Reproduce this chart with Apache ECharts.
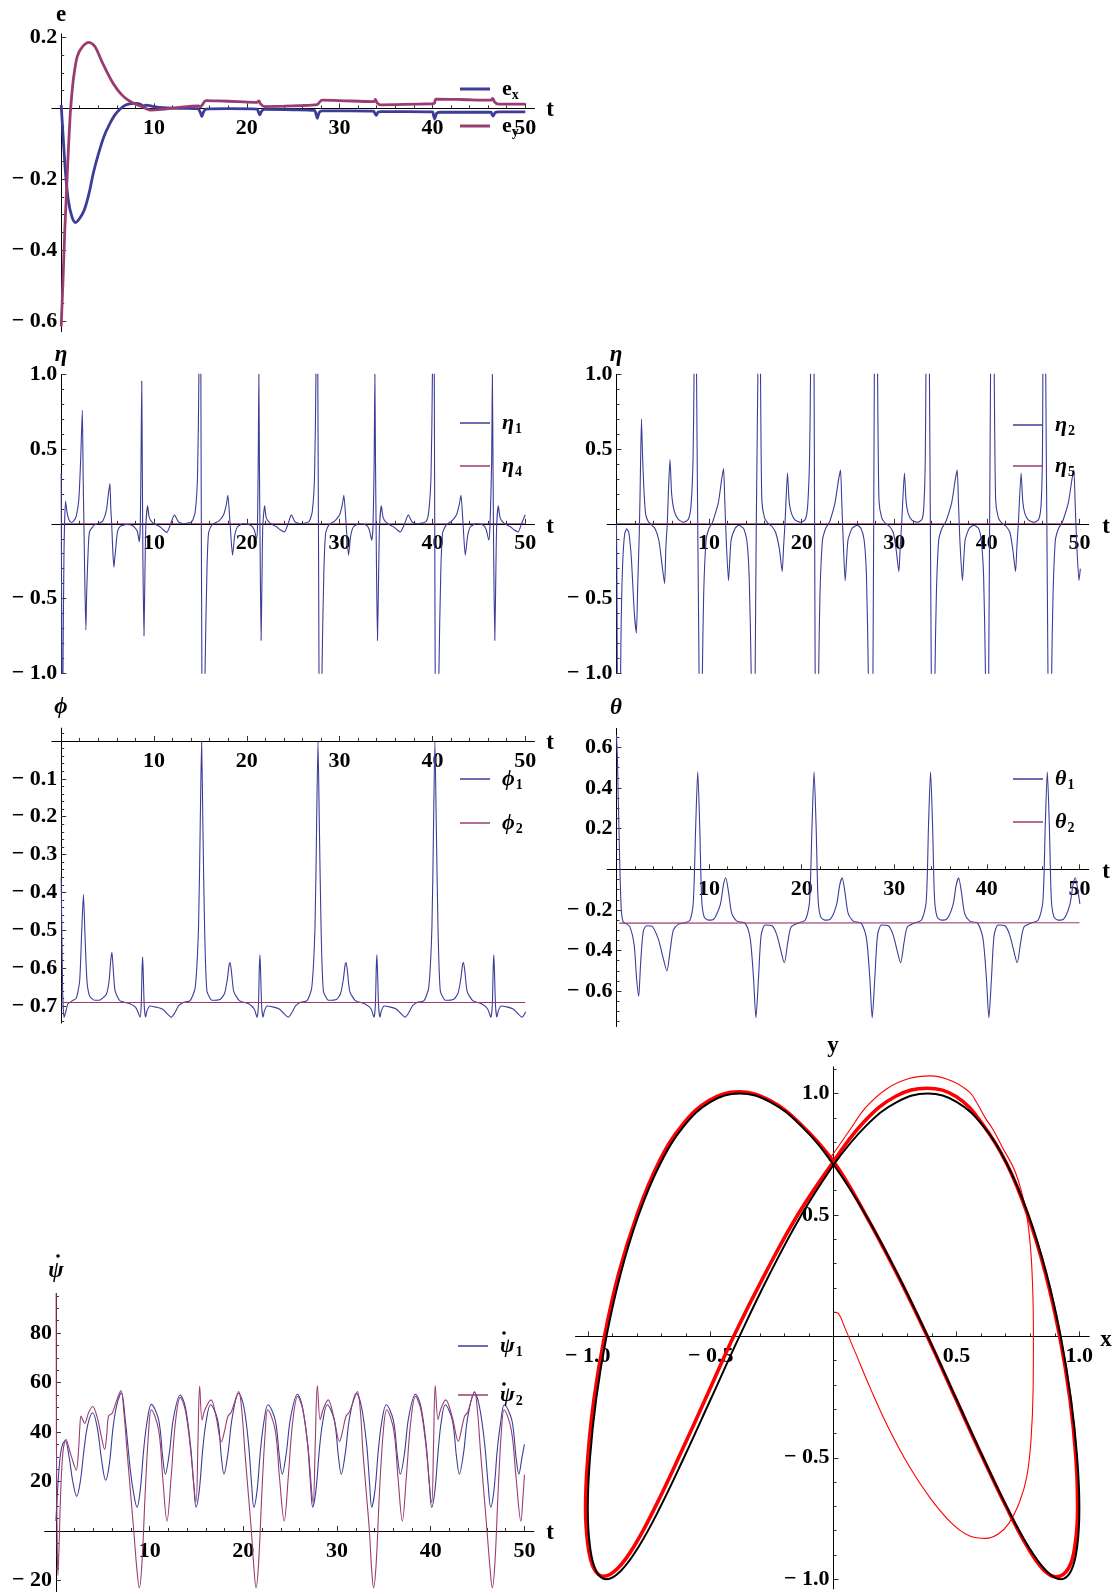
<!DOCTYPE html>
<html><head><meta charset="utf-8">
<script src="https://cdn.jsdelivr.net/npm/echarts@6/dist/echarts.min.js"></script>
<style>html,body{margin:0;padding:0;background:#fff}#c{width:1116px;height:1593px}</style>
</head><body><div id="c"></div>
<script>
// ---------------- tick labels ----------------
const tTickLabels = [10,20,30,40,50];
const eTickLabels = [-0.6,-0.4,-0.2,0.2];
const etaTickLabels = [-1,-0.5,0.5,1];
const phiTickLabels = [-0.7,-0.6,-0.5,-0.4,-0.3,-0.2,-0.1];
const thetaTickLabels = [-0.6,-0.4,-0.2,0.2,0.4,0.6];
const psiTickLabels = [-20,20,40,60,80];
const xyTickLabels = [-1,-0.5,0.5,1];

// ---------------- series values [t, value] ----------------
const ex = [[0,0.01],[0.19,-0.07],[0.46,-0.18],[0.77,-0.26],[1.15,-0.305],[1.54,-0.322],[2.0,-0.31],[2.5,-0.286],[3.0,-0.24],[3.46,-0.183],[4.0,-0.13],[4.6,-0.08],[5.2,-0.045],[5.77,-0.019],[6.3,-0.003],[6.9,0.009],[7.5,0.013],[8.1,0.014],[8.6,0.011],[8.85,0.006],[9.1,0.009],[10,0.005],[11,0.002],[12.7,0.0],[14.7,-0.001],[15.0,-0.012],[15.15,-0.023],[15.35,-0.01],[15.6,-0.002],[18,-0.001],[21.1,-0.002],[21.25,-0.01],[21.4,-0.018],[21.6,-0.008],[21.9,-0.003],[25,-0.004],[27.3,-0.006],[27.45,-0.015],[27.6,-0.028],[27.8,-0.012],[28.1,-0.007],[31,-0.007],[33.65,-0.008],[33.8,-0.014],[33.95,-0.02],[34.15,-0.01],[34.5,-0.009],[37,-0.009],[40.0,-0.01],[40.12,-0.02],[40.25,-0.03],[40.45,-0.014],[40.8,-0.011],[43.5,-0.011],[46.3,-0.011],[46.42,-0.017],[46.55,-0.022],[46.75,-0.012],[47.1,-0.01],[50,-0.01]];
const ey = [[0,-0.615],[0.19,-0.49],[0.38,-0.35],[0.55,-0.25],[0.69,-0.164],[0.96,-0.023],[1.15,0.04],[1.35,0.089],[1.73,0.146],[2.3,0.174],[3.0,0.186],[3.65,0.174],[4.4,0.131],[5.38,0.08],[6.0,0.055],[6.54,0.038],[7.1,0.025],[7.7,0.016],[8.85,0.003],[9.6,-0.005],[10.8,-0.003],[12.7,0.003],[14.8,0.007],[15.0,0.004],[15.2,0.01],[15.6,0.022],[17,0.021],[19,0.019],[21.1,0.017],[21.3,0.021],[21.5,0.012],[21.9,0.005],[24,0.006],[26,0.008],[27.3,0.01],[27.6,0.011],[28.1,0.023],[30,0.022],[33.7,0.019],[33.85,0.025],[34.05,0.015],[34.4,0.01],[37,0.011],[40.0,0.013],[40.2,0.014],[40.4,0.026],[43,0.025],[46.3,0.023],[46.5,0.028],[46.7,0.018],[47.1,0.012],[50,0.012]];

const eta1 = [[0,0.34],[0.05,-0.6],[0.1,-1.6],[0.18,-1.1],[0.3,-0.2],[0.47,0.15],[0.65,0.07],[0.85,0.025],[1.08,0.01],[1.35,0.02],[1.62,0.05],[1.9,0.16],[2.1,0.43],[2.28,0.76],[2.37,0.3],[2.45,0],[2.55,-0.4],[2.66,-0.71],[2.75,-0.45],[2.84,-0.29],[2.95,-0.12],[3.07,-0.05],[3.6,-0.007],[4.15,0.005],[4.5,0.02],[4.87,0.09],[5.09,0.2],[5.25,0.27],[5.35,0.1],[5.44,0],[5.56,-0.18],[5.68,-0.29],[5.79,-0.22],[5.9,-0.15],[6.05,-0.06],[6.3,-0.02],[7.04,-0.005],[7.76,-0.015],[8.2,-0.05],[8.41,-0.12],[8.52,-0.02],[8.6,0.4],[8.68,0.955],[8.74,0.4],[8.8,-0.2],[8.92,-0.75],[9.02,-0.35],[9.12,-0.02],[9.31,0.12],[9.5,0.04],[9.9,0.005],[10.65,-0.02],[11.0,-0.04],[11.37,-0.058],[11.8,0.0],[12.2,0.06],[12.64,0.013],[13.18,0],[14.08,0.015],[14.44,0.08],[14.69,0.32],[14.84,1.0],[14.95,3],[15.05,1.0],[15.1,0],[15.16,-1],[15.3,-3],[15.5,-1],[15.7,-0.33],[15.88,-0.06],[16.25,-0.007],[17.0,0.02],[17.5,0.06],[17.8,0.13],[17.96,0.19],[18.2,0.0],[18.46,-0.21],[18.7,-0.08],[19.0,-0.02],[19.6,0],[20.4,-0.01],[20.8,-0.04],[21.05,-0.1],[21.15,-0.02],[21.23,0.4],[21.3,1.0],[21.36,0.4],[21.44,-0.2],[21.54,-0.78],[21.64,-0.35],[21.72,-0.02],[21.92,0.12],[22.1,0.04],[22.5,0.005],[23.2,-0.02],[23.6,-0.04],[24.04,-0.055],[24.45,0.0],[24.8,0.06],[25.2,0.013],[25.8,0],[26.7,0.015],[27.05,0.08],[27.3,0.32],[27.45,1.0],[27.55,3],[27.65,1.0],[27.72,0],[27.78,-1],[27.9,-3],[28.1,-1],[28.3,-0.33],[28.5,-0.06],[28.85,-0.007],[29.5,0.02],[30.0,0.06],[30.3,0.13],[30.46,0.19],[30.7,0.0],[30.96,-0.21],[31.2,-0.08],[31.5,-0.02],[32.1,0],[32.9,-0.01],[33.2,-0.04],[33.46,-0.11],[33.6,-0.02],[33.72,0.4],[33.8,1.0],[33.87,0.4],[33.96,-0.2],[34.08,-0.78],[34.2,-0.35],[34.3,-0.02],[34.5,0.12],[34.7,0.04],[35.1,0.005],[35.8,-0.02],[36.2,-0.04],[36.54,-0.055],[37.0,0.0],[37.4,0.06],[37.8,0.013],[38.4,0],[39.3,0.015],[39.6,0.08],[39.85,0.32],[40.0,1.0],[40.1,3],[40.2,1.0],[40.25,0],[40.3,-1],[40.5,-3],[40.7,-1],[40.9,-0.33],[41.1,-0.06],[41.5,-0.007],[42.1,0.02],[42.6,0.06],[42.9,0.13],[43.08,0.19],[43.3,0.0],[43.54,-0.21],[43.8,-0.08],[44.1,-0.02],[44.7,0],[45.5,-0.01],[45.8,-0.04],[46.08,-0.11],[46.2,-0.02],[46.38,0.4],[46.46,1.0],[46.53,0.4],[46.6,-0.2],[46.72,-0.78],[46.83,-0.35],[46.92,-0.02],[47.1,0.12],[47.3,0.04],[47.7,0.005],[48.4,-0.02],[48.8,-0.04],[49.23,-0.055],[49.6,0.0],[50.0,0.06]];
const eta4 = [[0,0],[50,0]];

const eta2 = [[0,0],[0.05,-0.4],[0.1,-1.2],[0.25,-3],[0.42,-1.2],[0.5,-0.7],[0.6,-0.4],[0.72,-0.2],[0.9,-0.063],[1.12,-0.034],[1.34,-0.06],[1.62,-0.24],[1.91,-0.58],[2.15,-0.73],[2.3,-0.4],[2.45,-0.1],[2.55,0.2],[2.7,0.7],[2.82,0.45],[2.95,0.25],[3.14,0.07],[3.43,0.015],[3.79,-0.007],[4.15,-0.03],[4.58,-0.11],[4.95,-0.29],[5.2,-0.40],[5.34,-0.15],[5.49,0],[5.6,0.2],[5.78,0.43],[5.96,0.2],[6.25,0.083],[6.68,0.03],[7.22,0.01],[7.76,0.03],[8.05,0.12],[8.27,0.43],[8.38,1.0],[8.5,3],[8.65,1.0],[8.75,0.2],[8.85,-0.5],[8.92,-1],[9.1,-3],[9.28,-1],[9.42,-0.47],[9.68,-0.11],[10.0,-0.03],[10.3,0],[10.47,0.027],[11.0,0.14],[11.37,0.3],[11.57,0.37],[11.7,0.15],[11.85,-0.1],[12.1,-0.38],[12.38,-0.11],[12.82,-0.03],[13.18,-0.01],[13.72,-0.03],[14.08,-0.11],[14.33,-0.35],[14.55,-1],[14.75,-3],[14.98,-1],[15.1,0],[15.27,1],[15.42,3],[15.56,1],[15.7,0.16],[15.99,0.04],[16.43,0],[16.8,-0.018],[17.2,-0.06],[17.6,-0.17],[17.9,-0.32],[18.05,-0.15],[18.2,0.0],[18.47,0.34],[18.65,0.15],[18.9,0.07],[19.3,0.025],[19.9,0.01],[20.4,0.03],[20.65,0.12],[20.85,0.43],[20.96,1],[21.15,3],[21.34,1],[21.4,0],[21.46,-1],[21.65,-3],[21.84,-1],[21.98,-0.47],[22.25,-0.11],[22.6,-0.03],[22.9,0],[23.1,0.027],[23.6,0.14],[24.0,0.3],[24.2,0.36],[24.33,0.15],[24.48,-0.1],[24.7,-0.38],[25.0,-0.11],[25.45,-0.03],[26.0,-0.01],[26.4,-0.03],[26.75,-0.11],[27.0,-0.35],[27.2,-1],[27.5,-3],[27.7,-1],[27.78,0],[27.85,1],[28.0,3],[28.2,1],[28.35,0.16],[28.65,0.04],[29.1,0],[29.5,-0.018],[29.9,-0.06],[30.2,-0.17],[30.5,-0.32],[30.65,-0.15],[30.8,0],[31.1,0.34],[31.28,0.15],[31.5,0.07],[31.9,0.025],[32.5,0.01],[33.0,0.03],[33.2,0.12],[33.35,0.43],[33.42,1],[33.6,3],[33.8,1],[33.9,0],[34.0,-1],[34.2,-3],[34.4,-1],[34.55,-0.47],[34.8,-0.11],[35.15,-0.03],[35.45,0],[35.65,0.027],[36.2,0.14],[36.6,0.3],[36.8,0.36],[36.93,0.15],[37.08,-0.1],[37.36,-0.38],[37.65,-0.11],[38.1,-0.03],[38.6,-0.01],[39.1,-0.03],[39.4,-0.11],[39.65,-0.35],[39.85,-1],[40.0,-3],[40.2,-1],[40.3,0],[40.4,1],[40.6,3],[40.8,1],[40.95,0.16],[41.25,0.04],[41.7,0],[42.1,-0.018],[42.5,-0.06],[42.8,-0.17],[43.1,-0.32],[43.25,-0.15],[43.4,0],[43.7,0.34],[43.88,0.15],[44.1,0.07],[44.5,0.025],[45.1,0.01],[45.6,0.03],[45.85,0.12],[46.0,0.43],[46.05,1],[46.2,3],[46.36,1],[46.48,0],[46.6,-1],[46.8,-3],[47.0,-1],[47.15,-0.47],[47.4,-0.11],[47.75,-0.03],[48.05,0],[48.25,0.027],[48.8,0.14],[49.2,0.3],[49.4,0.36],[49.53,0.15],[49.68,-0.1],[49.95,-0.38],[50.1,-0.3]];
const eta5 = [[0,0],[50,0]];

const phi1 = [[0,-0.36],[0.15,-0.65],[0.3,-0.73],[0.45,-0.72],[0.72,-0.695],[1.2,-0.686],[1.62,-0.68],[1.99,-0.634],[2.2,-0.51],[2.4,-0.405],[2.56,-0.51],[2.78,-0.634],[3.07,-0.674],[3.6,-0.685],[4.2,-0.684],[4.87,-0.669],[5.16,-0.634],[5.34,-0.58],[5.47,-0.558],[5.6,-0.6],[5.81,-0.66],[6.32,-0.686],[7.4,-0.694],[8.0,-0.703],[8.3,-0.718],[8.5,-0.73],[8.62,-0.7],[8.72,-0.6],[8.78,-0.57],[8.85,-0.62],[8.95,-0.7],[9.1,-0.73],[9.25,-0.713],[9.57,-0.70],[10.2,-0.703],[10.9,-0.708],[11.4,-0.72],[11.85,-0.73],[12.25,-0.718],[12.64,-0.70],[13.2,-0.69],[13.9,-0.686],[14.44,-0.652],[14.8,-0.49],[14.98,-0.225],[15.13,0.0],[15.27,-0.225],[15.45,-0.49],[15.7,-0.66],[16.25,-0.685],[17.15,-0.682],[17.6,-0.667],[17.9,-0.63],[18.1,-0.59],[18.2,-0.585],[18.35,-0.61],[18.6,-0.662],[19.2,-0.686],[20.2,-0.694],[20.8,-0.708],[21.1,-0.73],[21.25,-0.7],[21.35,-0.6],[21.42,-0.565],[21.5,-0.62],[21.6,-0.7],[21.75,-0.73],[21.9,-0.713],[22.2,-0.70],[22.9,-0.703],[23.5,-0.708],[24.0,-0.72],[24.45,-0.73],[24.85,-0.718],[25.25,-0.70],[25.8,-0.69],[26.5,-0.686],[27.0,-0.652],[27.35,-0.49],[27.52,-0.225],[27.67,0.0],[27.82,-0.225],[28.0,-0.49],[28.25,-0.66],[28.8,-0.685],[29.7,-0.682],[30.1,-0.667],[30.4,-0.63],[30.6,-0.59],[30.7,-0.585],[30.85,-0.61],[31.1,-0.662],[31.7,-0.686],[32.7,-0.694],[33.4,-0.708],[33.7,-0.73],[33.85,-0.7],[33.95,-0.6],[34.02,-0.565],[34.1,-0.62],[34.2,-0.7],[34.35,-0.73],[34.5,-0.713],[34.8,-0.70],[35.5,-0.703],[36.1,-0.708],[36.6,-0.72],[37.05,-0.73],[37.45,-0.718],[37.85,-0.70],[38.4,-0.69],[39.1,-0.686],[39.6,-0.652],[39.95,-0.49],[40.12,-0.225],[40.27,0.0],[40.42,-0.225],[40.6,-0.49],[40.85,-0.66],[41.4,-0.685],[42.3,-0.682],[42.75,-0.667],[43.05,-0.63],[43.25,-0.59],[43.35,-0.585],[43.5,-0.61],[43.75,-0.662],[44.35,-0.686],[45.3,-0.694],[45.95,-0.708],[46.3,-0.73],[46.45,-0.7],[46.55,-0.6],[46.62,-0.565],[46.7,-0.62],[46.8,-0.7],[46.95,-0.73],[47.1,-0.713],[47.4,-0.70],[48.1,-0.703],[48.7,-0.708],[49.2,-0.72],[49.65,-0.73],[50.05,-0.715]];
const phi2 = [[0,-0.691],[50,-0.691]];

const theta1 = [[0,0.66],[0.1,0.55],[0.18,0.38],[0.28,0.18],[0.36,0.02],[0.45,-0.12],[0.54,-0.21],[0.72,-0.258],[0.97,-0.266],[1.44,-0.282],[1.91,-0.372],[2.17,-0.535],[2.4,-0.625],[2.6,-0.47],[2.89,-0.307],[3.25,-0.278],[3.79,-0.279],[4.5,-0.34],[4.95,-0.42],[5.45,-0.5],[5.78,-0.405],[6.14,-0.299],[6.68,-0.271],[7.4,-0.263],[7.94,-0.25],[8.3,-0.16],[8.56,0.215],[8.78,0.48],[8.99,0.215],[9.2,-0.144],[9.46,-0.233],[9.93,-0.25],[10.47,-0.247],[11.2,-0.176],[11.55,-0.078],[11.8,-0.042],[12.1,-0.111],[12.45,-0.217],[13.0,-0.255],[13.9,-0.266],[14.44,-0.34],[14.8,-0.535],[15.06,-0.73],[15.34,-0.535],[15.63,-0.323],[16.06,-0.274],[16.8,-0.278],[17.3,-0.32],[17.7,-0.39],[18.13,-0.46],[18.5,-0.36],[18.85,-0.285],[19.6,-0.265],[20.4,-0.25],[20.85,-0.16],[21.12,0.215],[21.34,0.48],[21.56,0.215],[21.77,-0.144],[22.04,-0.233],[22.5,-0.25],[23.05,-0.247],[23.76,-0.176],[24.11,-0.078],[24.37,-0.042],[24.67,-0.111],[25.02,-0.217],[25.57,-0.255],[26.45,-0.266],[27.0,-0.34],[27.36,-0.535],[27.62,-0.73],[27.9,-0.535],[28.2,-0.323],[28.62,-0.274],[29.36,-0.278],[29.86,-0.32],[30.26,-0.39],[30.69,-0.46],[31.06,-0.36],[31.4,-0.285],[32.15,-0.265],[32.95,-0.25],[33.45,-0.16],[33.7,0.215],[33.92,0.48],[34.14,0.215],[34.35,-0.144],[34.62,-0.233],[35.07,-0.25],[35.62,-0.247],[36.34,-0.176],[36.69,-0.078],[36.95,-0.042],[37.25,-0.111],[37.6,-0.217],[38.15,-0.255],[39.02,-0.266],[39.58,-0.34],[39.95,-0.535],[40.22,-0.73],[40.5,-0.535],[40.79,-0.323],[41.22,-0.274],[41.95,-0.278],[42.45,-0.32],[42.85,-0.39],[43.28,-0.46],[43.65,-0.36],[44.0,-0.285],[44.75,-0.265],[45.55,-0.25],[46.05,-0.16],[46.31,0.215],[46.53,0.48],[46.75,0.215],[46.96,-0.144],[47.23,-0.233],[47.7,-0.25],[48.25,-0.247],[48.95,-0.176],[49.3,-0.078],[49.55,-0.042],[49.85,-0.111],[50.05,-0.17]];
const theta2 = [[0.3,-0.265],[50,-0.263]];

const psi1 = [[0,4],[0.2,18],[0.45,30],[0.7,35],[1.0,36.5],[1.4,30],[1.8,20],[2.22,14],[2.6,20],[3.0,33],[3.4,43],[3.91,47.8],[4.4,42],[4.9,28],[5.3,20.5],[5.7,27],[6.1,42],[6.5,51],[6.98,55.9],[7.4,44.9],[7.94,24.6],[8.3,15],[8.65,9.6],[9.0,16.5],[9.36,32.7],[9.7,43.5],[10.18,51.2],[10.96,44.9],[11.39,30],[11.67,23],[12.1,31.4],[12.56,46],[13.27,55],[13.8,50.3],[14.34,35.4],[14.7,19],[14.95,9.6],[15.3,16.5],[15.66,32.7],[16.0,43.5],[16.5,51],[17.26,44.9],[17.65,30],[17.93,23],[18.36,31.4],[18.82,46],[19.5,55.7],[20.05,50.3],[20.55,35.4],[20.88,19],[21.12,9.6],[21.47,16.5],[21.83,32.7],[22.17,43.5],[22.63,51],[23.4,44.9],[23.85,30],[24.15,23],[24.58,31.4],[25.05,46],[25.78,55.3],[26.3,50.3],[26.85,35.4],[27.17,19],[27.4,9.6],[27.75,16.5],[28.11,32.7],[28.45,43.5],[28.95,51],[29.7,44.9],[30.15,30],[30.45,23],[30.88,31.4],[31.35,46],[32.07,55.7],[32.6,50.3],[33.15,35.4],[33.48,19],[33.7,9.6],[34.05,16.5],[34.41,32.7],[34.75,43.5],[35.25,51],[36.0,44.9],[36.45,30],[36.75,23],[37.2,31.4],[37.65,46],[38.38,55.3],[38.95,50.3],[39.5,35.4],[39.85,19],[40.1,9.6],[40.45,16.5],[40.8,32.7],[41.1,43.5],[41.55,51],[42.3,44.9],[42.75,30],[43.05,23],[43.5,31.4],[43.95,46],[44.67,56],[45.2,50.3],[45.75,35.4],[46.12,19],[46.4,9.6],[46.75,16.5],[47.1,32.7],[47.45,43.5],[47.85,51],[48.65,44.9],[49.1,30],[49.4,23],[49.75,30],[50,35]];
const psi2 = [[0,160],[0.05,40],[0.12,0],[0.21,-18],[0.32,-8],[0.5,15],[0.75,32],[1.07,37],[1.5,32],[1.9,27],[2.17,24.6],[2.4,32],[2.55,42],[2.67,46.5],[2.85,45],[3.06,43.5],[3.5,48],[3.91,50.3],[4.4,46],[4.8,39],[5.2,33],[5.4,38],[5.62,46.5],[6.0,47.6],[6.5,53],[6.94,56.8],[7.25,48],[7.58,32.7],[7.94,16.5],[8.3,0.3],[8.65,-16],[8.9,-23],[9.18,-13],[9.54,16.5],[9.9,40.8],[10.18,49],[10.96,40.8],[11.39,21.9],[11.85,4],[12.3,22],[12.74,43.5],[13.27,54],[13.8,49],[14.34,34],[14.95,11.8],[15.15,35],[15.34,58.6],[15.6,44.9],[15.9,49],[16.55,53],[17.1,46],[17.65,36],[18.0,40.5],[18.35,46.3],[18.7,48],[19.1,52.5],[19.5,56.4],[19.85,48],[20.15,32.7],[20.5,16.5],[20.85,0.3],[21.15,-16],[21.35,-23],[21.63,-13],[21.99,16.5],[22.35,40.8],[22.6,49],[23.4,40.8],[23.85,21.9],[24.36,4],[24.8,22],[25.25,43.5],[25.8,54.4],[26.35,49],[26.9,34],[27.45,11.5],[27.67,35],[27.9,58.8],[28.2,45],[28.5,49],[29.05,53],[29.65,46],[30.27,36.2],[30.6,40.5],[30.95,46.3],[31.3,48],[31.75,52.5],[32.17,56.4],[32.5,48],[32.75,32.7],[33.1,16.5],[33.45,0.3],[33.7,-16],[33.9,-23],[34.18,-13],[34.54,16.5],[34.95,40.8],[35.3,49],[36.05,40.8],[36.5,21.9],[36.97,4],[37.4,22],[37.85,43.5],[38.38,54.4],[38.95,49],[39.5,34],[40.1,11.5],[40.3,35],[40.48,58.8],[40.78,45],[41.05,49],[41.6,53],[42.3,46],[42.95,36.2],[43.25,40.5],[43.6,46.3],[43.95,48],[44.3,52.5],[44.67,56.4],[45.0,48],[45.3,32.7],[45.65,16.5],[46.0,0.3],[46.35,-16],[46.57,-23],[46.85,-13],[47.2,16.5],[47.55,40.8],[47.83,49],[48.6,40.8],[49.1,21.9],[49.62,4],[49.85,14],[50,22.7]];

// x-y plane: reference figure-eight (black), converging trajectory (red)
const refCurve = [[0,0.707],[0.131,0.866],[0.259,0.966],[0.383,1.0],[0.5,0.966],[0.609,0.866],[0.707,0.707],[0.793,0.5],[0.866,0.259],[0.924,0],[0.966,-0.259],[0.991,-0.5],[1.0,-0.707],[0.991,-0.866],[0.966,-0.966],[0.924,-1.0],[0.866,-0.966],[0.793,-0.866],[0.707,-0.707],[0.609,-0.5],[0.5,-0.259],[0.383,0],[0.259,0.259],[0.131,0.5],[0,0.707],[-0.131,0.866],[-0.259,0.966],[-0.383,1.0],[-0.5,0.966],[-0.609,0.866],[-0.707,0.707],[-0.793,0.5],[-0.866,0.259],[-0.924,0],[-0.966,-0.259],[-0.991,-0.5],[-1.0,-0.707],[-0.991,-0.866],[-0.966,-0.966],[-0.924,-1.0],[-0.866,-0.966],[-0.793,-0.866],[-0.707,-0.707],[-0.609,-0.5],[-0.5,-0.259],[-0.383,0],[-0.259,0.259],[-0.131,0.5],[0,0.707]];
const redLoop = [[0,0.72],[0.125,0.885],[0.255,0.99],[0.38,1.022],[0.5,0.987],[0.605,0.876],[0.705,0.71],[0.79,0.5],[0.862,0.26],[0.92,0],[0.962,-0.26],[0.986,-0.5],[0.993,-0.7],[0.983,-0.855],[0.956,-0.955],[0.905,-0.99],[0.855,-0.962],[0.788,-0.866],[0.705,-0.707],[0.607,-0.5],[0.498,-0.259],[0.38,0.003],[0.255,0.263],[0.128,0.505],[0,0.72],[-0.135,0.875],[-0.262,0.973],[-0.386,1.007],[-0.505,0.972],[-0.615,0.871],[-0.714,0.711],[-0.8,0.5],[-0.874,0.26],[-0.932,0],[-0.975,-0.26],[-1.0,-0.5],[-1.009,-0.705],[-0.999,-0.862],[-0.974,-0.958],[-0.935,-0.988],[-0.878,-0.955],[-0.806,-0.855],[-0.722,-0.695],[-0.626,-0.49],[-0.518,-0.25],[-0.402,0.01],[-0.275,0.265],[-0.142,0.507],[0,0.72]];
const redStart = [[0.0,0.1],[0.02,0.094],[0.046,0.035],[0.09,-0.07],[0.148,-0.21],[0.22,-0.37],[0.307,-0.534],[0.394,-0.667],[0.481,-0.77],[0.554,-0.822],[0.619,-0.832],[0.67,-0.814],[0.713,-0.77],[0.757,-0.681],[0.786,-0.578],[0.803,-0.431],[0.812,-0.209],[0.813,0.012],[0.81,0.2],[0.8,0.38],[0.78,0.53],[0.74,0.675],[0.686,0.78],[0.648,0.853],[0.619,0.897],[0.585,0.958],[0.554,1.005],[0.481,1.052],[0.394,1.073],[0.307,1.062],[0.22,1.022],[0.133,0.945],[0.061,0.843],[0.017,0.779],[-0.02,0.725]];

// ---------------- build chart ----------------
const FONT = '"Liberation Serif","Times New Roman","DejaVu Serif",serif';
const BLUE = '#3d3d99', PURPLE = '#993d71';
function range(a,b,s){const r=[];for(let v=a;v<=b+1e-9;v+=s)r.push(Math.round(v*1e4)/1e4);return r;}
function minus(a,b){return a.filter(v=>!b.some(w=>Math.abs(v-w)<1e-6) && Math.abs(v)>1e-6);}
function fmt(v,d){return (v<0?'\u2212 ':'')+Math.abs(v).toFixed(d);}

const grids=[], xAxes=[], yAxes=[], series=[], legends=[], graphics=[];
const labelStyle = {color:'#000', fontFamily:FONT, fontWeight:'bold', fontSize:22};
const tickLine = {color:'#333', width:1};

function addPanel(p){
  const z = p.az || 0;
  const main = grids.length;
  grids.push({left:p.left, top:p.top, width:p.width, height:p.height, outerBoundsMode:'none'});
  const xi = xAxes.length, yi = yAxes.length;
  xAxes.push({type:'value', gridIndex:main, min:p.xmin, max:p.xmax, show:false});
  yAxes.push({type:'value', gridIndex:main, min:p.ymin, max:p.ymax, show:false});
  const zeroY = p.top + p.height * p.ymax / (p.ymax - p.ymin);
  const zeroX = p.left + p.width * (-p.xmin) / (p.xmax - p.xmin);
  // horizontal axis drawn along y = 0 (major ticks + labels, then minor ticks)
  [0,1].forEach(k => {
    const g = grids.length;
    grids.push({left:p.left, top:zeroY-20, width:p.width, height:20, outerBoundsMode:'none'});
    xAxes.push({type:'value', gridIndex:g, min:p.xmin, max:p.xmax, position:'bottom', z,
      axisLine:{show:k===0, onZero:false, lineStyle:{color:'#000', width:1}},
      axisTick:{show:true, inside:true, length:k?3:5, customValues:k?p.xMinor:p.xLabels, lineStyle:tickLine},
      axisLabel:{show:k===0, customValues:p.xLabels, margin:9, formatter:v=>fmt(v,p.xDec), ...labelStyle},
      splitLine:{show:false}});
    yAxes.push({type:'value', gridIndex:g, min:0, max:1, show:false});
  });
  // vertical axis drawn along t = 0
  [0,1].forEach(k => {
    const g = grids.length;
    grids.push({left:zeroX, top:p.top, width:20, height:p.height, outerBoundsMode:'none'});
    yAxes.push({type:'value', gridIndex:g, min:p.ymin, max:p.ymax, position:'left', z,
      axisLine:{show:k===0, onZero:false, lineStyle:{color:'#000', width:1}},
      axisTick:{show:true, inside:true, length:k?3:5, customValues:k?p.yMinor:p.yLabels, lineStyle:tickLine},
      axisLabel:{show:k===0, customValues:p.yLabels, margin:4, formatter:v=>fmt(v,p.yDec), ...labelStyle},
      splitLine:{show:false}});
    xAxes.push({type:'value', gridIndex:g, min:0, max:1, show:false});
  });
  return {xi, yi};
}
function addLine(ax, name, data, color, width, opts){
  series.push(Object.assign({type:'line', name, data, xAxisIndex:ax.xi, yAxisIndex:ax.yi,
    showSymbol:false, symbol:'none', color, itemStyle:{color}, lineStyle:{color, width},
    smooth:0.3, clip:true, silent:true, animation:false}, opts||{}));
}
function axisName(text, x, y, italic){
  graphics.push({type:'text', x, y, silent:true, style:{text, font:(italic?'italic ':'')+'bold 23px '+FONT,
    fill:'#000', align:'center', verticalAlign:'middle', textAlign:'center', textVerticalAlign:'middle'}});
}
function dot(x, y){
  graphics.push({type:'circle', silent:true, shape:{cx:x, cy:y, r:1.8}, style:{fill:'#000'}});
}
const rich = {
  b:{fontFamily:FONT, fontWeight:'bold', fontSize:22, lineHeight:26, padding:[0,0,0,7], color:'#000'},
  g:{fontFamily:FONT, fontWeight:'bold', fontStyle:'italic', fontSize:22, lineHeight:26, padding:[0,1,0,7], color:'#000'},
  s:{fontFamily:FONT, fontWeight:'bold', fontSize:14, lineHeight:14, verticalAlign:'bottom', color:'#000'}
};
const legendText = {ex:'{b|e}{s|x}', ey:'{b|e}{s|y}', eta1:'{g|η}{s|1}', eta4:'{g|η}{s|4}', eta2:'{g|η}{s|2}', eta5:'{g|η}{s|5}',
  phi1:'{g|ϕ}{s|1}', phi2:'{g|ϕ}{s|2}', theta1:'{g|θ}{s|1}', theta2:'{g|θ}{s|2}', psi1:'{g|ψ}{s|1}', psi2:'{g|ψ}{s|2}'};
function addLegend(names, left, top, gap, h){
  legends.push({data:names, left, top, orient:'vertical', itemWidth:30, itemHeight:h, itemGap:gap, icon:'rect',
    selectedMode:false, formatter:n=>legendText[n], textStyle:{rich}});
}

const tMinor = minus(range(0,50,2), tTickLabels);

// e panel
let a = addPanel({left:51.9, top:33.9, width:482.6, height:297.8, xmin:-1, xmax:51, ymin:-0.63, ymax:0.21,
  xLabels:tTickLabels, xMinor:tMinor, xDec:0, yLabels:eTickLabels, yMinor:minus(range(-0.6,0.2,0.05), eTickLabels), yDec:1});
addLine(a,'ex',ex,BLUE,2.8); addLine(a,'ey',ey,PURPLE,2.8);
addLegend(['ex','ey'],455,73,13,3);
axisName('e',61,15); axisName('t',550,110);

// eta left
a = addPanel({left:51.9, top:374.3, width:482.6, height:299, xmin:-1, xmax:51, ymin:-1, ymax:1, az:3,
  xLabels:tTickLabels, xMinor:tMinor, xDec:0, yLabels:etaTickLabels, yMinor:minus(range(-1,1,0.1), etaTickLabels), yDec:1});
addLine(a,'eta1',eta1,BLUE,1.1,{smooth:0.2}); addLine(a,'eta4',eta4,PURPLE,1.1,{z:1});
addLegend(['eta1','eta4'],455,407,19,1.5);
axisName('η',61,355,true); axisName('t',550,527);

// eta right
a = addPanel({left:607.2, top:374.3, width:481.5, height:299, xmin:-1, xmax:51, ymin:-1, ymax:1, az:3,
  xLabels:tTickLabels, xMinor:tMinor, xDec:0, yLabels:etaTickLabels, yMinor:minus(range(-1,1,0.1), etaTickLabels), yDec:1});
addLine(a,'eta2',eta2,BLUE,1.1,{smooth:0.2}); addLine(a,'eta5',eta5,PURPLE,1.1,{z:1});
addLegend(['eta2','eta5'],1008,409,17,1.5);
axisName('η',616,355,true); axisName('t',1106,527);

// phi
a = addPanel({left:51.9, top:728.1, width:482.6, height:294.9, xmin:-1, xmax:51, ymin:-0.745, ymax:0.034,
  xLabels:tTickLabels, xMinor:tMinor, xDec:0, yLabels:phiTickLabels, yMinor:minus(range(-0.74,0.02,0.02), phiTickLabels), yDec:1});
addLine(a,'phi1',phi1,BLUE,1.1,{smooth:0.2}); addLine(a,'phi2',phi2,PURPLE,1.1);
addLegend(['phi1','phi2'],455,763,20,1.5);
axisName('ϕ',61,707,true); axisName('t',550,743);

// theta
a = addPanel({left:607.2, top:728.4, width:481.5, height:298.2, xmin:-1, xmax:51, ymin:-0.774, ymax:0.693,
  xLabels:tTickLabels, xMinor:tMinor, xDec:0, yLabels:thetaTickLabels, yMinor:minus(range(-0.75,0.65,0.05), thetaTickLabels), yDec:1});
addLine(a,'theta1',theta1,BLUE,1.1,{smooth:0.25}); addLine(a,'theta2',theta2,PURPLE,1.1);
addLegend(['theta1','theta2'],1008,763,19,1.5);
axisName('θ',616,708,true); axisName('t',1106,872);

// psi dot
a = addPanel({left:44.7, top:1293.5, width:489.1, height:298.1, xmin:-1.2, xmax:51, ymin:-24.5, ymax:96,
  xLabels:tTickLabels, xMinor:tMinor, xDec:0, yLabels:psiTickLabels, yMinor:minus(range(-20,95,5), psiTickLabels), yDec:0});
addLine(a,'psi1',psi1,BLUE,1.1,{smooth:0.35}); addLine(a,'psi2',psi2,PURPLE,1.1,{smooth:0.35});
addLegend(['psi1','psi2'],453,1330,25,1.5);
axisName('ψ',56,1271,true); dot(58,1256);
dot(504,1333); dot(504,1384);
axisName('t',550,1533);

// x-y
a = addPanel({left:575.5, top:1066.9, width:513.7, height:522, xmin:-1.05, xmax:1.04, ymin:-1.04, ymax:1.11,
  xLabels:xyTickLabels, xMinor:minus(range(-1,1,0.1), xyTickLabels), xDec:1,
  yLabels:xyTickLabels, yMinor:minus(range(-1,1.1,0.1), xyTickLabels), yDec:1});
addLine(a,'redStart',redStart,'#ff0000',1.1,{smooth:0.4});
addLine(a,'redLoop',redLoop,'#ff0000',3.6,{smooth:0.4});
addLine(a,'ref',refCurve,'#000000',2.0,{smooth:0.4});
axisName('y',833,1046); axisName('x',1106,1340);

const chart = echarts.init(document.getElementById('c'), null, {renderer:'canvas'});
chart.setOption({animation:false, backgroundColor:'#fff', textStyle:{fontFamily:FONT},
  grid:grids, xAxis:xAxes, yAxis:yAxes, series, legend:legends, graphic:graphics});
</script></body></html>
